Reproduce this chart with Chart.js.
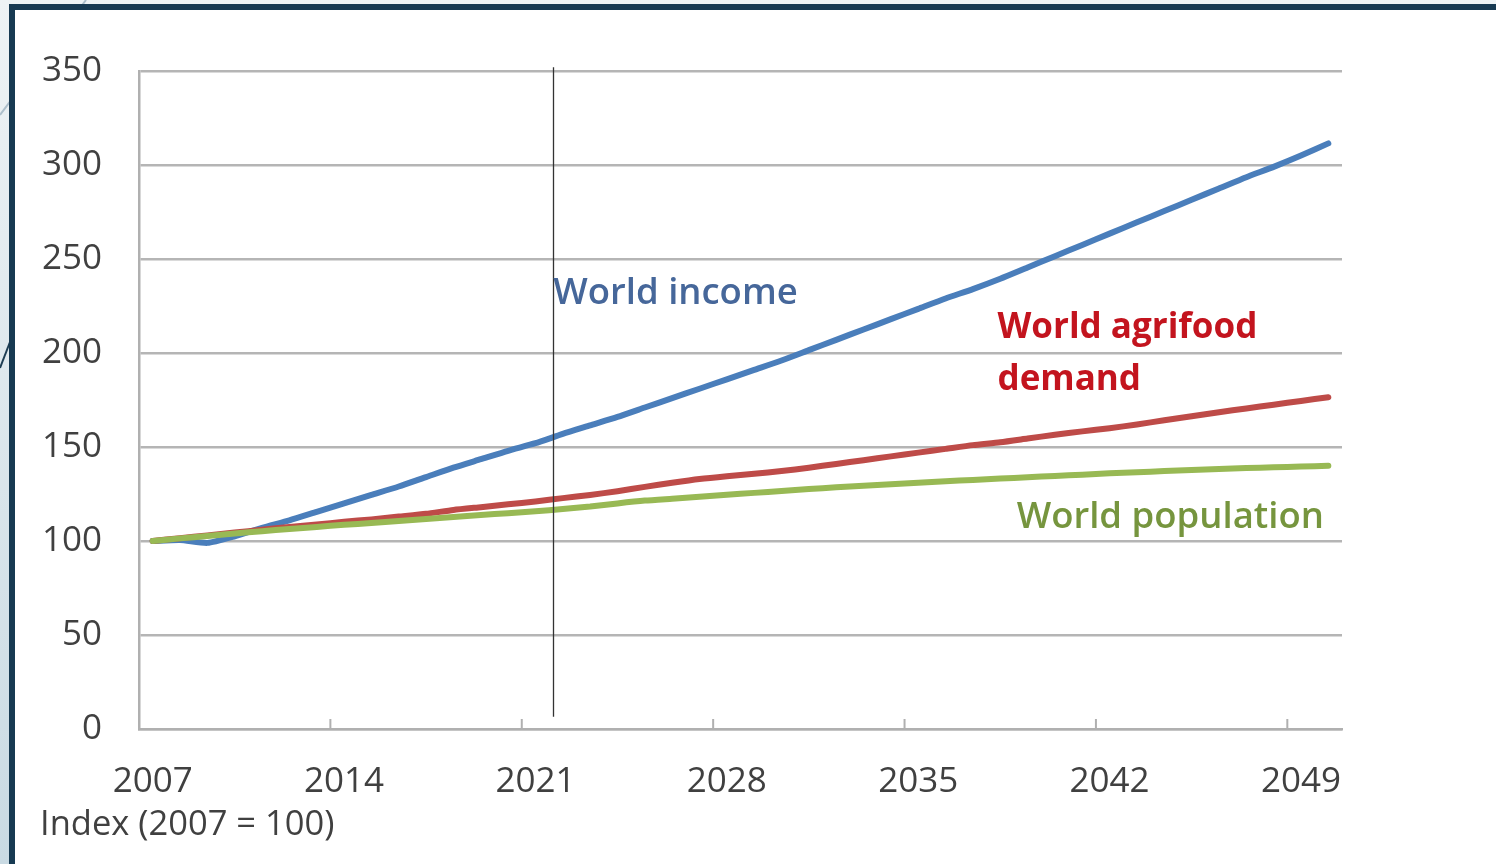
<!DOCTYPE html>
<html><head><meta charset="utf-8">
<script src="https://cdn.jsdelivr.net/npm/chart.js@4/dist/chart.umd.min.js"></script>
<style>html,body{margin:0;padding:0;background:#fff;overflow:hidden}#wrap{width:1496px;height:864px}canvas{display:block}</style>
</head><body>
<div id="wrap"><canvas id="c"></canvas></div>
<script>
// ---- DATA ----
const years = ['2007','2008','2009','2010','2011','2012','2013','2014','2015','2016','2017','2018','2019','2020','2021','2022','2023','2024','2025','2026','2027','2028','2029','2030','2031','2032','2033','2034','2035','2036','2037','2038','2039','2040','2041','2042','2043','2044','2045','2046','2047','2048','2049','2050'];
const shownYearLabels = ['2007','2014','2021','2028','2035','2042','2049'];
const worldIncome = [100,100.5,99,102.5,107,111,115.5,120,124.5,129,134,139,143.5,148,152,157,161.5,166,171,176,181,186,191,196,201.5,207,212.5,218,223.5,229,234,239.5,245.5,251.5,257.5,263.5,269.5,275.5,281.5,287.5,293.5,299,305,311.5];
const worldAgrifood = [100,101.5,103,104.5,106,107.5,108.8,110.2,111.5,113,114.5,116.5,118,119.5,121,122.8,124.5,126.5,128.8,131,133,134.5,135.8,137.2,139,141,143,145,147,149,151,152.5,154.5,156.5,158.3,160,162,164.2,166.4,168.5,170.5,172.5,174.5,176.5];
const worldPopulation = [100,101.4,102.7,104,105.2,106.4,107.5,108.6,109.6,110.7,111.7,112.8,113.8,114.8,115.8,117,118.3,120,121.5,122.5,123.5,124.6,125.6,126.6,127.6,128.6,129.4,130.2,131,131.8,132.5,133.2,133.9,134.6,135.3,136,136.6,137.2,137.8,138.3,138.8,139.2,139.6,140];
const yMin = 0, yMax = 350, yStep = 50;
const markerYear = 2021.65;            // vertical reference line
const markerRange = [352, 6.5];        // value extent of that line
const axisTitle = 'Index (2007 = 100)';
const seriesLabels = [
  {lines:['World income'], year:2021.65, value:226, color:'#46679a', weight:'600', size:36.5},
  {lines:['World agrifood','demand'], year:2037.9, value:208, color:'#c3141e', weight:'700', size:35},
  {lines:['World population'], year:2038.6, value:107, color:'#76953e', weight:'600', size:36.5}
];

// ---- PLUGINS ----
const FONT = '"Open Sans", "DejaVu Sans", sans-serif';
function yearToPx(xs, yr){
  const f = yr - 2007; const i = Math.floor(f); const t = f - i;
  const a = xs.getPixelForValue(i), b = xs.getPixelForValue(Math.min(i+1, years.length-1));
  return a + (b-a)*t;
}
const framePlugin = {
  id:'frame',
  beforeDraw(chart){
    const ctx = chart.ctx, W = chart.width, H = chart.height;
    ctx.save();
    const g = ctx.createLinearGradient(0,0,0,H);
    g.addColorStop(0,'#eef3f5'); g.addColorStop(1,'#c9dae3');
    ctx.fillStyle = g; ctx.fillRect(0,0,W,H);
    ctx.lineWidth = 2;
    ctx.strokeStyle = 'rgba(165,185,198,0.9)';
    ctx.beginPath(); ctx.moveTo(86,0); ctx.lineTo(0,115); ctx.stroke();
    ctx.strokeStyle = '#1d3d53';
    ctx.beginPath(); ctx.moveTo(0,368); ctx.lineTo(10,342); ctx.stroke();
    ctx.fillStyle = '#173a52'; ctx.fillRect(9,4,W-9,H-4);
    ctx.fillStyle = '#ffffff'; ctx.fillRect(15,10,W-15,H-10);
    ctx.restore();
  }
};
const annotPlugin = {
  id:'annot',
  afterDatasetsDraw(chart){
    const ctx = chart.ctx, xs = chart.scales.x, ys = chart.scales.y, area = chart.chartArea;
    ctx.save();
    // inward tick marks every 7 categories
    ctx.strokeStyle = '#b0b0b0'; ctx.lineWidth = 2;
    for (let i = 7; i < years.length; i += 7){
      const x = (xs.getPixelForValue(i-1) + xs.getPixelForValue(i)) / 2;
      ctx.beginPath(); ctx.moveTo(x, area.bottom - 10); ctx.lineTo(x, area.bottom); ctx.stroke();
    }
    // vertical marker
    const mx = Math.round(yearToPx(xs, markerYear)) + 0.5;
    ctx.strokeStyle = '#333'; ctx.lineWidth = 1.3;
    ctx.beginPath(); ctx.moveTo(mx, ys.getPixelForValue(markerRange[0])); ctx.lineTo(mx, ys.getPixelForValue(markerRange[1])); ctx.stroke();
    // series labels
    ctx.textBaseline = 'alphabetic'; ctx.textAlign = 'left';
    seriesLabels.forEach(l => {
      ctx.fillStyle = l.color;
      ctx.font = l.weight + ' ' + l.size + 'px ' + FONT;
      const x = yearToPx(xs, l.year), y = ys.getPixelForValue(l.value);
      l.lines.forEach((t, k) => ctx.fillText(t, x, y + k*52));
    });
    ctx.restore();
  },
  afterDraw(chart){
    const ctx = chart.ctx;
    ctx.save();
    ctx.fillStyle = '#404040'; ctx.font = '34.5px ' + FONT;
    ctx.textBaseline = 'alphabetic'; ctx.textAlign = 'left';
    ctx.fillText(axisTitle, 40, 835);
    ctx.restore();
  }
};

// ---- CHART ----
new Chart(document.getElementById('c'), {
  type:'line',
  data:{
    labels: years,
    datasets:[
      {label:'World population', data:worldPopulation, borderColor:'#98b954'},
      {label:'World agrifood demand', data:worldAgrifood, borderColor:'#be4b48'},
      {label:'World income', data:worldIncome, borderColor:'#4a7ebb'}
    ].map(d => Object.assign(d, {borderWidth:6, pointRadius:0, tension:0.2, fill:false, borderCapStyle:'round', borderJoinStyle:'round'}))
  },
  options:{
    responsive:true, maintainAspectRatio:false, animation:false,
    layout:{padding:{top:71, right:154, left:0, bottom:0}},
    plugins:{legend:{display:false}, tooltip:{enabled:false}},
    scales:{
      x:{
        type:'category', offset:true,
        grid:{display:true, drawOnChartArea:false, drawTicks:false, color:'rgba(0,0,0,0)'},
        border:{display:true, color:'#b0b0b0', width:2.5},
        ticks:{autoSkip:false, maxRotation:0, padding:32, color:'#404040', font:{family:FONT, size:35},
          callback:(v,i) => shownYearLabels.includes(years[i]) ? years[i] : ''},
        afterFit:s => { s.height = 135; }
      },
      y:{
        min:yMin, max:yMax,
        grid:{color:'#b5b5b5', lineWidth:2.5, drawTicks:false},
        border:{display:true, color:'#b0b0b0', width:2.5},
        ticks:{stepSize:yStep, padding:37, color:'#404040', font:{family:FONT, size:35}},
        afterFit:s => { s.width = 139; }
      }
    }
  },
  plugins:[framePlugin, annotPlugin]
});
</script>
</body></html>
